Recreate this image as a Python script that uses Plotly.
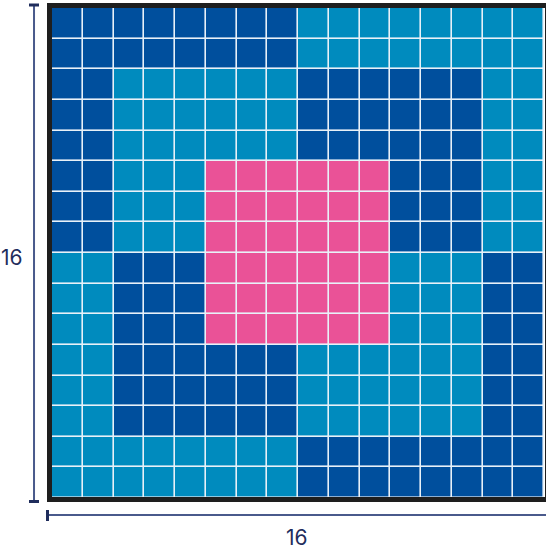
import plotly.graph_objects as go

# 0 = dark blue, 1 = light blue, 2 = pink
row_labels = list(range(16))
col_labels = list(range(16))
grid_rows = [
    [0, 0, 0, 0, 0, 0, 0, 0, 1, 1, 1, 1, 1, 1, 1, 1],
    [0, 0, 0, 0, 0, 0, 0, 0, 1, 1, 1, 1, 1, 1, 1, 1],
    [0, 0, 1, 1, 1, 1, 1, 1, 0, 0, 0, 0, 0, 0, 1, 1],
    [0, 0, 1, 1, 1, 1, 1, 1, 0, 0, 0, 0, 0, 0, 1, 1],
    [0, 0, 1, 1, 1, 1, 1, 1, 0, 0, 0, 0, 0, 0, 1, 1],
    [0, 0, 1, 1, 1, 2, 2, 2, 2, 2, 2, 0, 0, 0, 1, 1],
    [0, 0, 1, 1, 1, 2, 2, 2, 2, 2, 2, 0, 0, 0, 1, 1],
    [0, 0, 1, 1, 1, 2, 2, 2, 2, 2, 2, 0, 0, 0, 1, 1],
    [1, 1, 0, 0, 0, 2, 2, 2, 2, 2, 2, 1, 1, 1, 0, 0],
    [1, 1, 0, 0, 0, 2, 2, 2, 2, 2, 2, 1, 1, 1, 0, 0],
    [1, 1, 0, 0, 0, 2, 2, 2, 2, 2, 2, 1, 1, 1, 0, 0],
    [1, 1, 0, 0, 0, 0, 0, 0, 1, 1, 1, 1, 1, 1, 0, 0],
    [1, 1, 0, 0, 0, 0, 0, 0, 1, 1, 1, 1, 1, 1, 0, 0],
    [1, 1, 0, 0, 0, 0, 0, 0, 1, 1, 1, 1, 1, 1, 0, 0],
    [1, 1, 1, 1, 1, 1, 1, 1, 0, 0, 0, 0, 0, 0, 0, 0],
    [1, 1, 1, 1, 1, 1, 1, 1, 0, 0, 0, 0, 0, 0, 0, 0],
]
width_label = "16"
height_label = "16"

DARK = "#004F9D"
LIGHT = "#008BBE"
PINK = "#EA5297"
NAVY = "#1F2D5C"

W, H = 546, 549
ml, mr, mt, mb = 52, 1.5, 8, 51
pw, ph = W - ml - mr, H - mt - mb

def px(x):
    return (x - ml) / pw

def py(y):
    return (H - mb - y) / ph

fig = go.Figure(go.Heatmap(
    z=grid_rows, x=col_labels, y=row_labels,
    zmin=0, zmax=2,
    colorscale=[[0, DARK], [0.5, LIGHT], [1, PINK]],
    showscale=False, xgap=1.6, ygap=1.6, hoverinfo="skip",
))

shapes = []
# frame
shapes.append(dict(type="rect", xref="paper", yref="paper",
                   x0=px(49.5), x1=px(548), y0=py(499.5), y1=py(5.5),
                   line=dict(color="#1E1E1E", width=5), layer="above"))
dim = dict(color="#4A5A8C", width=2)
cap = dict(color=NAVY, width=3)
# vertical dimension line
shapes.append(dict(type="line", xref="paper", yref="paper",
                   x0=px(34), x1=px(34), y0=py(5), y1=py(501), line=dim))
shapes.append(dict(type="line", xref="paper", yref="paper",
                   x0=px(29), x1=px(39), y0=py(5), y1=py(5), line=cap))
shapes.append(dict(type="line", xref="paper", yref="paper",
                   x0=px(29), x1=px(39), y0=py(501.5), y1=py(501.5), line=cap))
# horizontal dimension line
shapes.append(dict(type="line", xref="paper", yref="paper",
                   x0=px(47), x1=px(560), y0=py(515), y1=py(515), line=dim))
shapes.append(dict(type="line", xref="paper", yref="paper",
                   x0=px(47.5), x1=px(47.5), y0=py(510), y1=py(521), line=cap))

annotations = [
    dict(text=height_label, xref="paper", yref="paper", x=px(12), y=py(257),
         showarrow=False, xanchor="center", yanchor="middle",
         font=dict(size=21, color=NAVY, family="Inter")),
    dict(text=width_label, xref="paper", yref="paper", x=px(297), y=py(537),
         showarrow=False, xanchor="center", yanchor="middle",
         font=dict(size=21, color=NAVY, family="Inter")),
]

fig.update_layout(
    width=W, height=H,
    margin=dict(l=ml, r=mr, t=mt, b=mb, pad=0),
    paper_bgcolor="white", plot_bgcolor="#E8F1F8",
    shapes=shapes, annotations=annotations,
    showlegend=False,
)
fig.update_xaxes(range=[-0.5, 15.5], visible=False, fixedrange=True)
fig.update_yaxes(range=[15.5, -0.5], visible=False, fixedrange=True)

fig.write_html(
    "out.html",
    config={"displayModeBar": False},
    post_script="document.body.style.margin='0';document.body.style.overflow='hidden';",
)
